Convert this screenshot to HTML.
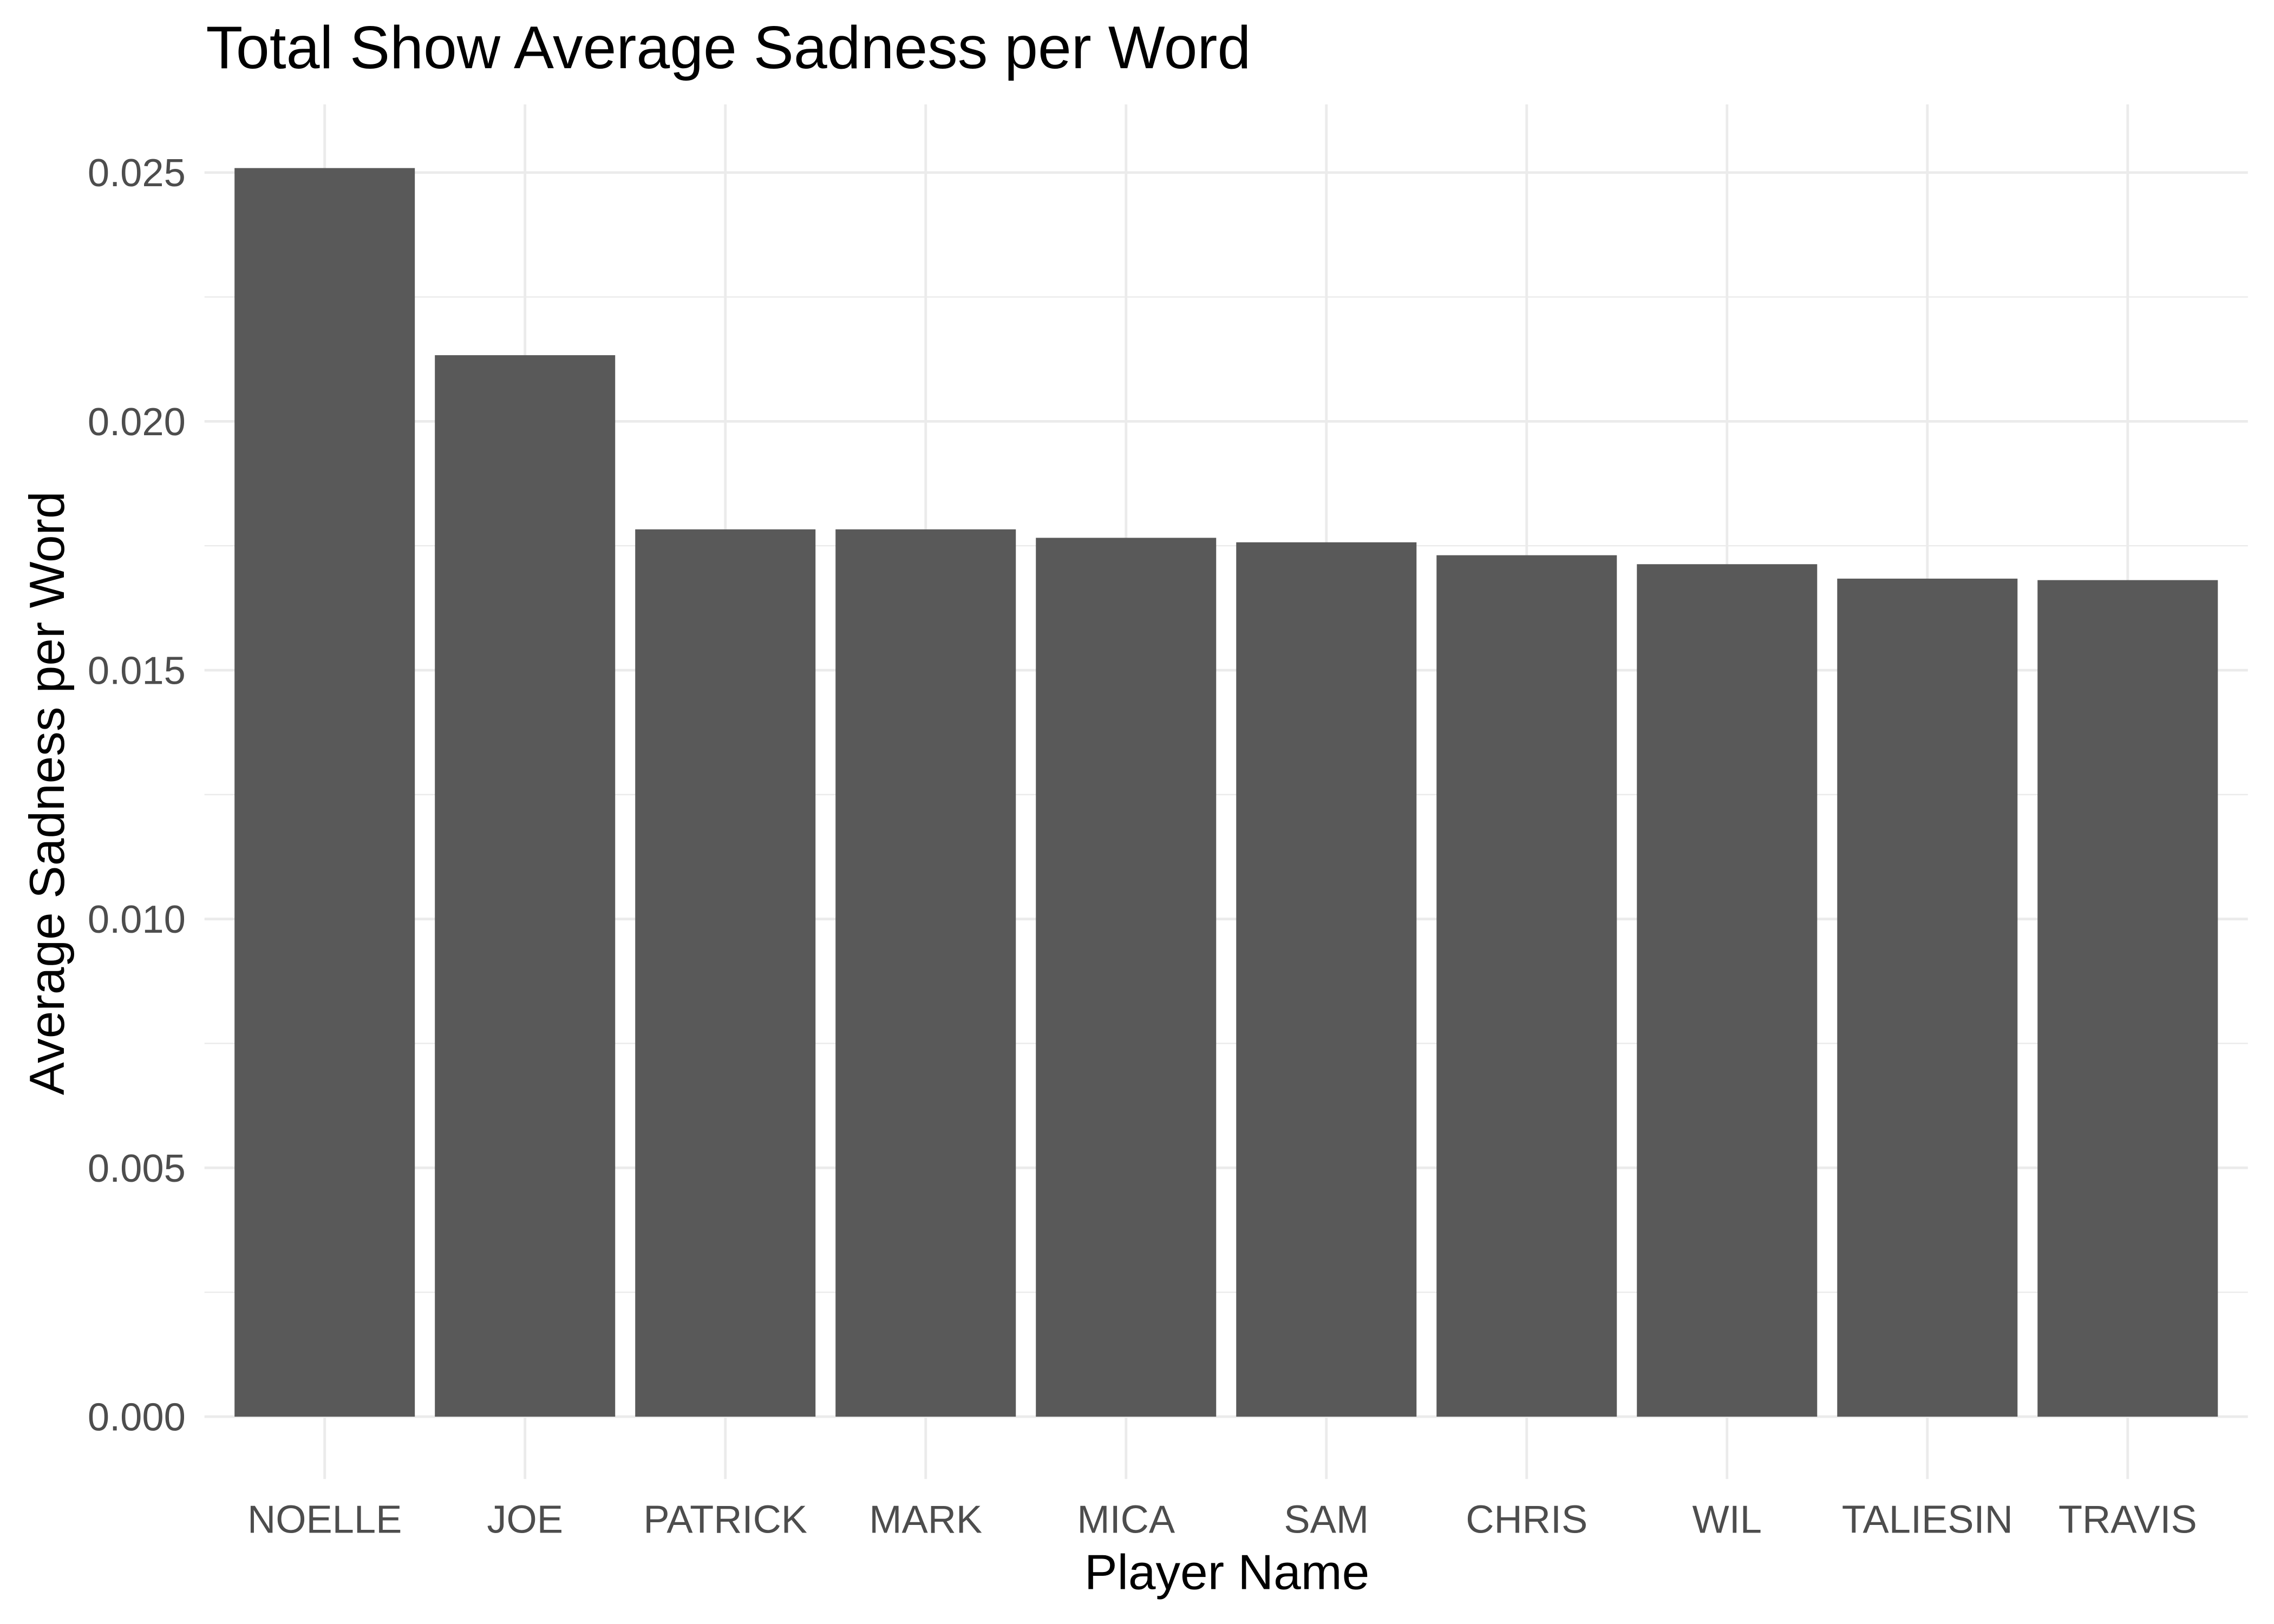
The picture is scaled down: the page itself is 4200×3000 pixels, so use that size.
<!DOCTYPE html>
<html><head><meta charset="utf-8"><style>html,body{margin:0;padding:0;background:#fff}svg{display:block}text{font-family:"Liberation Sans",Arial,sans-serif}</style></head>
<body>
<svg id="chart" width="4200" height="3000" viewBox="0 0 1568 1120" xmlns="http://www.w3.org/2000/svg">
<rect width="1568" height="1120" fill="#fff"/>
<g id="grid"></g>
<g id="bars"></g>
<g id="axes"></g>
<text x="142" y="47" font-size="41.5" fill="#000">Total Show Average Sadness per Word</text>
<text x="846" y="1096" font-size="34" fill="#000" text-anchor="middle">Player Name</text>
<text transform="translate(44,547) rotate(-90)" font-size="34" fill="#000" text-anchor="middle">Average Sadness per Word</text>
</svg>
<script>
const categories = ["NOELLE","JOE","PATRICK","MARK","MICA","SAM","CHRIS","WIL","TALIESIN","TRAVIS"];
const values = [0.02509,0.02133,0.01783,0.01783,0.01766,0.01757,0.01731,0.01713,0.01684,0.01681];
const yTicks = [0,0.005,0.010,0.015,0.020,0.025];
const yTickLabels = ["0.000","0.005","0.010","0.015","0.020","0.025"];
const yMinor = [0.0025,0.0075,0.0125,0.0175,0.0225];

const NS="http://www.w3.org/2000/svg";
const panelL=141, panelR=1550, panelT=72, panelB=1020;
const y0px=977, y25px=119;
function yScale(v){return y0px-(v/0.025)*(y0px-y25px);}
const step=(panelR-panelL)/(categories.length+0.2);
function xScale(i){return panelL+step*(0.6+i);}
const barW=step*0.9;
function mk(tag,attrs,parent){const e=document.createElementNS(NS,tag);for(const k in attrs)e.setAttribute(k,attrs[k]);parent.appendChild(e);return e;}
const grid=document.getElementById('grid'),bars=document.getElementById('bars'),axes=document.getElementById('axes');
yMinor.forEach(v=>{const l=mk('line',{x1:panelL,x2:panelR,y1:yScale(v),y2:yScale(v),stroke:'#ebebeb','stroke-width':0.9},grid);

});
yTicks.forEach((v,i)=>{const l=mk('line',{x1:panelL,x2:panelR,y1:yScale(v),y2:yScale(v),stroke:'#ebebeb','stroke-width':1.8},grid);


const t=mk('text',{x:128,y:yScale(v)+9.5,'font-size':27,fill:'#4d4d4d','text-anchor':'end'},axes);t.textContent=yTickLabels[i];

});
categories.forEach((c,i)=>{const x=xScale(i);
const l=mk('line',{x1:x,x2:x,y1:panelT,y2:panelB,stroke:'#ebebeb','stroke-width':1.8},grid);


const r=mk('rect',{x:x-barW/2,y:yScale(values[i]),width:barW,height:yScale(0)-yScale(values[i]),fill:'#595959'},bars);


const t=mk('text',{x:x,y:1057,'font-size':27,fill:'#4d4d4d','text-anchor':'middle'},axes);t.textContent=c;

});
</script>
</body></html>
